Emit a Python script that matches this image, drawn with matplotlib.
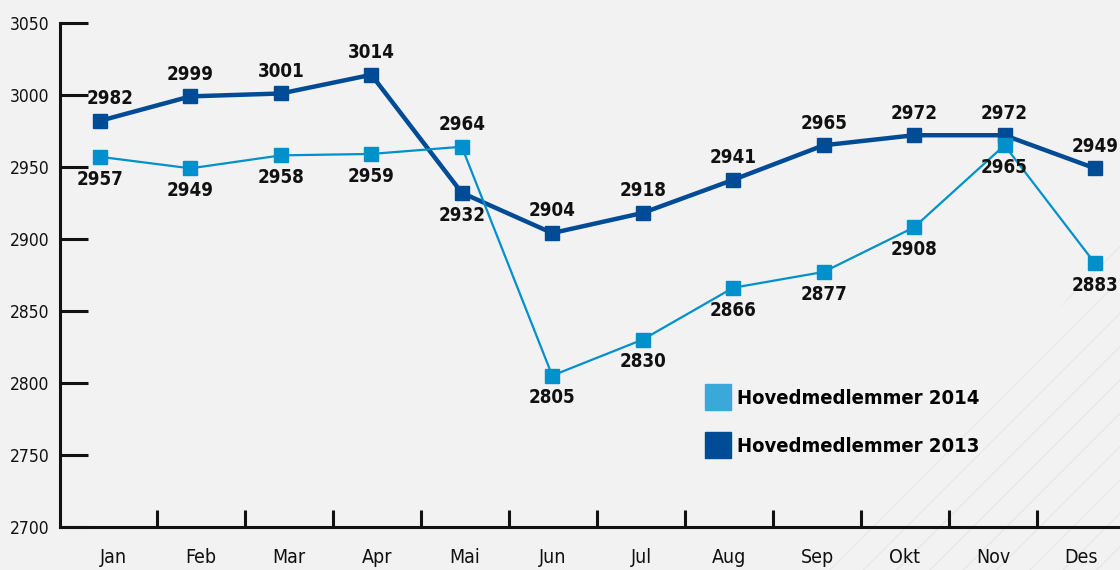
import numpy as np
import matplotlib
matplotlib.use("Agg")
import matplotlib.pyplot as plt
from matplotlib.lines import Line2D
from matplotlib.patches import Polygon

# data
months = ["Jan", "Feb", "Mar", "Apr", "Mai", "Jun",
          "Jul", "Aug", "Sep", "Okt", "Nov", "Des"]
members_2014 = [2957, 2949, 2958, 2959, 2964, 2805,
                2830, 2866, 2877, 2908, 2965, 2883]
members_2013 = [2982, 2999, 3001, 3014, 2932, 2904,
                2918, 2941, 2965, 2972, 2972, 2949]
# label placement: 1 = above marker, -1 = below
side_2014 = [-1, -1, -1, -1, 1, -1, -1, -1, -1, -1, -1, -1]
side_2013 = [1, 1, 1, 1, -1, 1, 1, 1, 1, 1, 1, 1]
# small sideways nudge (points) for crowded labels
nudge_2013 = [7, 0, 0, 0, 0, 0, 0, 0, 0, 0, 0, 0]

label_2014 = "Hovedmedlemmer 2014"
label_2013 = "Hovedmedlemmer 2013"

bg = "#f2f2f2"
dark = "#004b96"
light = "#0090cc"
light_swatch = "#3aa9d9"

plt.rcParams["font.family"] = ["DejaVu Sans"]
plt.rcParams["font.stretch"] = "condensed"
plt.rcParams["hatch.linewidth"] = 0.8

fig = plt.figure(figsize=(11.2, 5.7), dpi=100, facecolor=bg)

# faint diagonal hatch in the lower right corner
corner = Polygon([[0.74, 0.0], [1.0, 0.0], [1.0, 0.58]], closed=True,
                 transform=fig.transFigure, facecolor="none",
                 edgecolor="#e6e6e6", hatch="/", lw=0, zorder=-1)
fig.patches.append(corner)

ax = fig.add_axes([60 / 1120, 0.076, 1 - 60 / 1120, 0.8837])
ax.set_facecolor("none")

x = np.arange(len(months))
ax.plot(x, members_2013, color=dark, lw=3.2, marker="s", ms=10.5,
        mec=dark, mfc=dark, zorder=3, solid_joinstyle="miter")
ax.plot(x, members_2014, color=light, lw=1.6, marker="s", ms=10,
        mec=light, mfc=light, zorder=4)

for xi, v, s in zip(x, members_2014, side_2014):
    ax.annotate(str(v), (xi, v), xytext=(0, 16 * s), textcoords="offset points",
                ha="center", va="center", fontsize=13.5, fontweight="bold",
                color="#111111", zorder=5)
for xi, v, s, dx in zip(x, members_2013, side_2013, nudge_2013):
    ax.annotate(str(v), (xi, v), xytext=(dx, 16 * s), textcoords="offset points",
                ha="center", va="center", fontsize=13.5, fontweight="bold",
                color="#111111", zorder=5)

# axis limits so markers sit ~90 px apart, spine at left edge
step = 90.45
ax.set_xlim(-40 / step, 1020 / step)
ax.set_ylim(2700, 3050)

ax.set_yticks([2700, 2750, 2800, 2850, 2900, 2950, 3000, 3050])
ax.tick_params(axis="y", direction="in", length=20, width=2.2,
               labelsize=12.5, pad=-5, colors="#111111")
for lbl in ax.get_yticklabels():
    lbl.set_horizontalalignment("right")
    lbl.set_x(-0.0165)

# month labels centred in 88 px bins, separators between bins
label_pos = (13 + 88 * x) / step
sep_pos = (57 + 88 * np.arange(len(months) - 1)) / step
ax.set_xticks(label_pos)
ax.set_xticklabels(months)
ax.set_xticks(sep_pos, minor=True)
ax.tick_params(axis="x", which="major", length=0, pad=15, labelsize=14,
               colors="#111111")
ax.tick_params(axis="x", which="minor", direction="in", length=12, width=2.2,
               color="#111111")

for side in ["top", "right"]:
    ax.spines[side].set_visible(False)
for side in ["left", "bottom"]:
    ax.spines[side].set_linewidth(2.2)
    ax.spines[side].set_color("#111111")

handles = [
    Line2D([], [], ls="none", marker="s", ms=19, mfc=light_swatch, mec=light_swatch,
           label=label_2014),
    Line2D([], [], ls="none", marker="s", ms=19, mfc=dark, mec=dark,
           label=label_2013),
]
leg = ax.legend(handles=handles, loc="upper left",
                bbox_to_anchor=(0.6015, 0.293), frameon=False,
                handlelength=1.0, handletextpad=0.45, labelspacing=1.45,
                borderpad=0, prop={"size": 14.5, "weight": "bold"})

fig.savefig("out.png", dpi=100, facecolor=bg)
